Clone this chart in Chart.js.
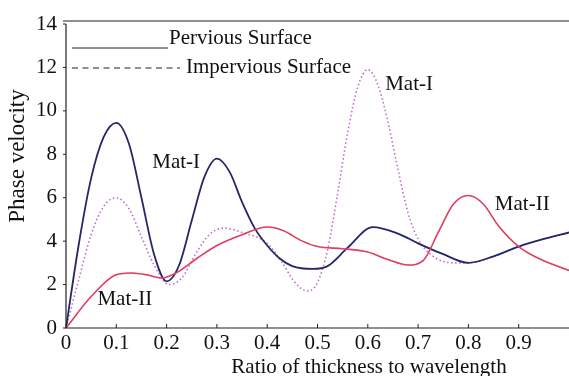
<!DOCTYPE html>
<html>
<head>
<meta charset="utf-8">
<script src="https://cdn.jsdelivr.net/npm/chart.js@4/dist/chart.umd.min.js"></script>
<style>
  html, body { margin: 0; padding: 0; background: #fff; overflow: hidden; }
  #wrap { width: 569px; height: 376px; position: relative; }
</style>
</head>
<body>
<div id="wrap"><canvas id="chart" width="569" height="376"></canvas></div>
<script>
// values
const matIPervX = [0, 0.025, 0.05, 0.075, 0.1, 0.125, 0.15, 0.175, 0.2, 0.225, 0.25, 0.275, 0.3, 0.325, 0.35, 0.375, 0.4, 0.425, 0.45, 0.49, 0.52, 0.56, 0.61, 0.66, 0.7, 0.75, 0.8, 0.85, 0.9, 0.95, 1.0]
const matIPervY = [0, 3.8, 6.9, 8.8, 9.45, 8.5, 6.0, 3.4, 2.15, 2.9, 4.95, 6.95, 7.8, 7.2, 5.8, 4.6, 3.8, 3.2, 2.85, 2.72, 2.85, 3.7, 4.65, 4.35, 3.9, 3.4, 3.0, 3.3, 3.75, 4.1, 4.4]

const matIImpX = [0, 0.025, 0.05, 0.075, 0.1, 0.125, 0.15, 0.175, 0.205, 0.23, 0.26, 0.285, 0.315, 0.35, 0.4, 0.43, 0.455, 0.48, 0.5, 0.52, 0.54, 0.56, 0.58, 0.6, 0.62, 0.64, 0.66, 0.68, 0.7, 0.73, 0.77, 0.8, 0.85, 0.9, 0.95, 1.0]
const matIImpY = [0, 2.2, 4.3, 5.6, 6.0, 5.5, 4.2, 2.9, 2.0, 2.3, 3.5, 4.3, 4.6, 4.4, 3.9, 3.0, 2.1, 1.7, 2.1, 3.6, 6.2, 9.0, 11.1, 11.9, 11.2, 9.5, 7.3, 5.3, 4.1, 3.3, 3.0, 3.0, 3.3, 3.75, 4.1, 4.4]

const matIIX = [0, 0.05, 0.1, 0.13, 0.16, 0.19, 0.22, 0.26, 0.3, 0.35, 0.4, 0.43, 0.47, 0.5, 0.55, 0.6, 0.64, 0.68, 0.71, 0.74, 0.77, 0.8, 0.83, 0.86, 0.9, 0.94, 1.0]
const matIIY = [0, 1.45, 2.45, 2.53, 2.45, 2.3, 2.55, 3.2, 3.8, 4.3, 4.65, 4.5, 4.0, 3.75, 3.65, 3.5, 3.15, 2.9, 3.1, 4.4, 5.7, 6.1, 5.7, 4.7, 3.75, 3.2, 2.65]

const xTicks = [0, 0.1, 0.2, 0.3, 0.4, 0.5, 0.6, 0.7, 0.8, 0.9]
const yTicks = [0, 2, 4, 6, 8, 10, 12, 14]

const labels = [
  {text: 'Mat-I', x: 0.682, y: 11.2},
  {text: 'Mat-I', x: 0.219, y: 7.6},
  {text: 'Mat-II', x: 0.907, y: 5.67},
  {text: 'Mat-II', x: 0.117, y: 1.3}
]

function pts(xs, ys) {
  return xs.map((x, i) => ({x: x, y: ys[i]}))
}

const serif = "'Liberation Serif', 'DejaVu Serif', serif"

const decor = {
  id: 'decor',
  afterDatasetsDraw(chart) {
    const ctx = chart.ctx
    const a = chart.chartArea
    const xs = chart.scales.x, ys = chart.scales.y
    ctx.save()
    ctx.strokeStyle = '#222'
    ctx.lineWidth = 1.2
    // frame
    ctx.beginPath()
    ctx.moveTo(a.left - 3, a.top - 3); ctx.lineTo(a.right, a.top - 3)
    ctx.moveTo(a.left, a.top); ctx.lineTo(a.left, a.bottom); ctx.lineTo(a.right, a.bottom)
    ctx.stroke()
    // inward ticks
    ctx.lineWidth = 1
    ctx.beginPath()
    xTicks.forEach(v => {
      const p = xs.getPixelForValue(v)
      ctx.moveTo(p, a.bottom); ctx.lineTo(p, a.bottom - 4)
    })
    yTicks.forEach(v => {
      const p = ys.getPixelForValue(v)
      ctx.moveTo(a.left - 3, p); ctx.lineTo(a.left, p)
    })
    ctx.stroke()
    // legend
    ctx.fillStyle = '#111'
    ctx.font = '21px ' + serif
    ctx.textBaseline = 'middle'
    ctx.beginPath()
    ctx.moveTo(72, 48); ctx.lineTo(168, 48)
    ctx.stroke()
    ctx.fillText('Pervious Surface', 169, 38)
    ctx.setLineDash([6, 4.5])
    ctx.beginPath()
    ctx.moveTo(72, 68); ctx.lineTo(180, 68)
    ctx.stroke()
    ctx.setLineDash([])
    ctx.fillText('Impervious Surface', 186, 67)
    // curve labels
    ctx.textAlign = 'center'
    labels.forEach(l => {
      ctx.fillText(l.text, xs.getPixelForValue(l.x), ys.getPixelForValue(l.y))
    })
    // axis titles (offset from centre in the original)
    ctx.fillText('Ratio of thickness to wavelength', 369, 367)
    ctx.translate(18, 156)
    ctx.rotate(-Math.PI / 2)
    ctx.font = '23px ' + serif
    ctx.fillText('Phase velocity', 0, 0)
    ctx.restore()
  }
}

new Chart(document.getElementById('chart'), {
  type: 'line',
  data: {
    datasets: [
      {data: pts(matIIX, matIIY), borderColor: '#e0405e', borderWidth: 1.6, pointRadius: 0, cubicInterpolationMode: 'monotone'},
      {data: pts(matIIX, matIIY), borderColor: '#9a58c8', borderWidth: 1, borderDash: [1, 2], pointRadius: 0, cubicInterpolationMode: 'monotone'},
      {data: pts(matIPervX, matIPervY), borderColor: '#262668', borderWidth: 1.8, pointRadius: 0, cubicInterpolationMode: 'monotone'},
      {data: pts(matIImpX, matIImpY), borderColor: '#bf6ccf', borderWidth: 1.6, borderDash: [1.5, 2.5], pointRadius: 0, cubicInterpolationMode: 'monotone'}
    ]
  },
  options: {
    responsive: false,
    animation: false,
    layout: {padding: {top: 24, right: 0, left: 0, bottom: 0}},
    plugins: {legend: {display: false}, tooltip: {enabled: false}},
    scales: {
      x: {
        type: 'linear', min: 0, max: 1,
        grid: {display: false, drawTicks: false},
        border: {display: false},
        afterBuildTicks: s => { s.ticks = xTicks.map(v => ({value: v})) },
        afterFit: s => { s.height = 48 },
        ticks: {color: '#111', font: {family: serif, size: 21}, padding: 3, maxRotation: 0,
          callback: v => String(v)}
      },
      y: {
        min: 0, max: 14,
        grid: {display: false, drawTicks: false},
        border: {display: false},
        afterBuildTicks: s => { s.ticks = yTicks.map(v => ({value: v})) },
        afterFit: s => { s.width = 66 },
        ticks: {color: '#111', font: {family: serif, size: 21}, padding: 9}
      }
    }
  },
  plugins: [decor]
})
</script>
</body>
</html>
